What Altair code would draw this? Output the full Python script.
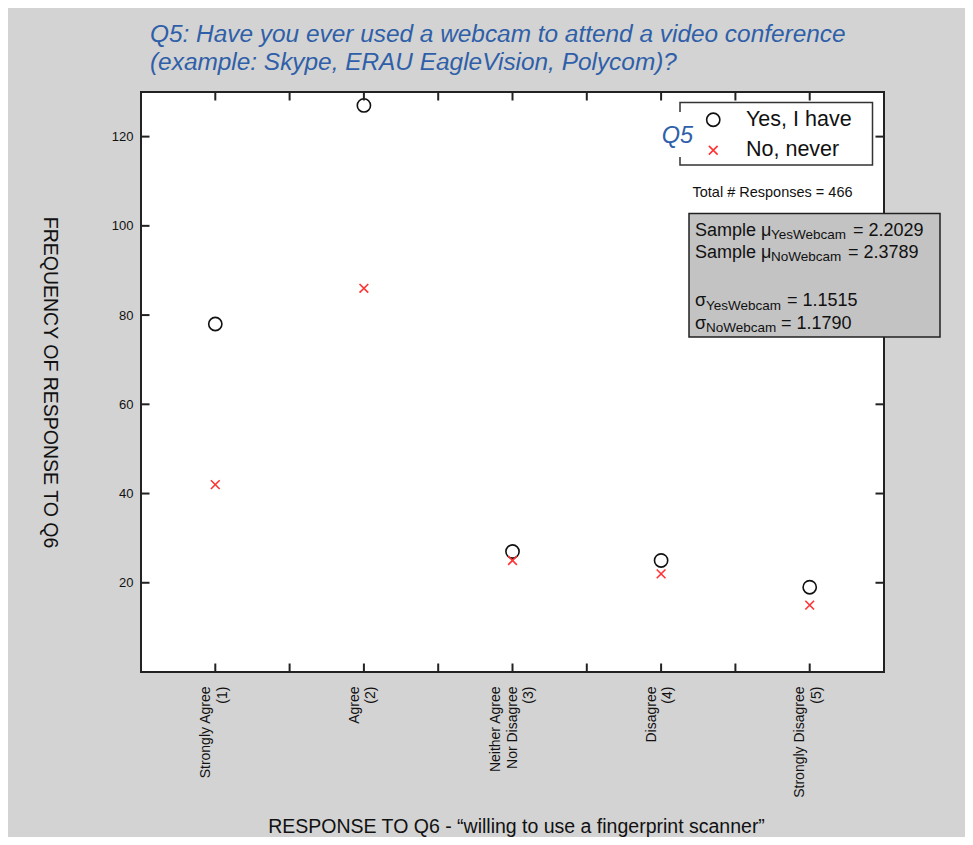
import json
import altair as alt
import pandas as pd

# ---------------- data ----------------
categories = [1, 2, 3, 4, 5]
x_labels = [
    ["Strongly Agree", "(1)"],
    ["Agree", "(2)"],
    ["Neither Agree", "Nor Disagree", "(3)"],
    ["Disagree", "(4)"],
    ["Strongly Disagree", "(5)"],
]
series_names = ["Yes, I have", "No, never"]
yes_counts = [78, 127, 27, 25, 19]
no_counts = [42, 86, 25, 22, 15]
y_tick_values = [20, 40, 60, 80, 100, 120]
x_tick_values = [1, 1.5, 2, 2.5, 3, 3.5, 4, 4.5, 5]

title_lines = [
    "Q5: Have you ever used a webcam to attend a video conference",
    "(example: Skype, ERAU EagleVision, Polycom)?",
]
x_title = "RESPONSE TO Q6 - \u201cwilling to use a fingerprint scanner\u201d"
y_title = "FREQUENCY OF RESPONSE TO Q6"
legend_title = "Q5"
total_text = "Total # Responses = 466"
stat_main = ["Sample \u03bc", "= 2.2029", "Sample \u03bc", "= 2.3789",
             "\u03c3", "= 1.1515", "\u03c3", "= 1.1790"]
stat_sub = ["YesWebcam", "NoWebcam", "YesWebcam", "NoWebcam"]

# ---------------- geometry ----------------
W, H = 743, 580
X_DOM = [0.5, 5.5]
Y_DOM = [0, 130]
LEFT, TOP = 141, 92   # page position of plot origin
FONT = "Liberation Sans"
LABEL_LH = 16.5


def px_x(px):
    return X_DOM[0] + (px - LEFT) * (X_DOM[1] - X_DOM[0]) / W


def px_y(py):
    return Y_DOM[0] + (TOP + H - py) * (Y_DOM[1] - Y_DOM[0]) / H


TICK = 8.5
tick_dx = TICK * (X_DOM[1] - X_DOM[0]) / W
tick_dy = TICK * (Y_DOM[1] - Y_DOM[0]) / H

xs = alt.Scale(domain=X_DOM, nice=False, zero=False)
ys = alt.Scale(domain=Y_DOM, nice=False, zero=False)

# ---------------- data frames ----------------
pts = pd.DataFrame({
    "x": categories * 2,
    "y": yes_counts + no_counts,
    "series": [series_names[0]] * 5 + [series_names[1]] * 5,
})

tick_rows = []
for v in x_tick_values:
    tick_rows.append({"x": v, "x2": v, "y": Y_DOM[0], "y2": Y_DOM[0] + tick_dy})
    tick_rows.append({"x": v, "x2": v, "y": Y_DOM[1], "y2": Y_DOM[1] - tick_dy})
for v in y_tick_values:
    tick_rows.append({"x": X_DOM[0], "x2": X_DOM[0] + tick_dx, "y": v, "y2": v})
    tick_rows.append({"x": X_DOM[1], "x2": X_DOM[1] - tick_dx, "y": v, "y2": v})
ticks_df = pd.DataFrame(tick_rows)

legend_box = pd.DataFrame([{"x": px_x(680), "x2": px_x(872.5), "y": px_y(102.5), "y2": px_y(165)}])
q5_patch = pd.DataFrame([{"x": px_x(662), "x2": px_x(694), "y": px_y(112), "y2": px_y(157)}])
stats_box = pd.DataFrame([{"x": px_x(689), "x2": px_x(940), "y": px_y(213.5), "y2": px_y(337)}])

q5_df = pd.DataFrame([{"x": px_x(677.5), "y": px_y(143), "text": legend_title}])
total_df = pd.DataFrame([{"x": px_x(772.5), "y": px_y(197), "text": total_text}])

main_pos = [(695, 235.5), (853, 235.5),
            (695, 257.5), (848, 257.5),
            (695, 306), (787, 306),
            (695, 328.5), (781, 328.5)]
sub_pos = [(771, 239), (771, 261), (706, 309.5), (706, 332)]
main_df = pd.DataFrame([{"x": px_x(p[0]), "y": px_y(p[1]), "text": t}
                        for t, p in zip(stat_main, main_pos)])
sub_df = pd.DataFrame([{"x": px_x(p[0]), "y": px_y(p[1]), "text": t}
                       for t, p in zip(stat_sub, sub_pos)])

# ---------------- layers ----------------
label_expr = json.dumps(x_labels) + "[datum.value - 1]"
n_lines_expr = json.dumps([len(l) for l in x_labels]) + "[datum.value - 1]"

x_axis = alt.Axis(
    values=categories, ticks=False, tickSize=0, domain=False, grid=False,
    labelExpr=label_expr, labelAngle=270, labelAlign="right", labelBaseline="middle",
    labelFont=FONT, labelFontSize=14, labelLineHeight=LABEL_LH, labelPadding=14,
    labelOffset={"condition": {"test": f"{n_lines_expr} == 3", "value": -LABEL_LH - 0.5},
                 "value": -LABEL_LH / 2 - 1.5},
    labelColor="#111111", labelOverlap=False,
    title=x_title, titleFont=FONT, titleFontSize=19.5, titleFontWeight="normal",
    titleColor="#111111", titleX=375, titleY=160, titleAlign="center",
    titleBaseline="alphabetic",
)
y_axis = alt.Axis(
    values=y_tick_values, ticks=False, tickSize=0, domain=False, grid=False,
    labelFont=FONT, labelFontSize=13, labelPadding=8, labelColor="#111111",
    title=y_title, titleFont=FONT, titleFontSize=19.5, titleFontWeight="normal",
    titleColor="#111111", titleAngle=90, titleX=-92, titleY=290,
    titleAlign="center", titleBaseline="middle",
)

CROSS = "M-0.66,-0.66L0.66,0.66M-0.66,0.66L0.66,-0.66"
leg = alt.Legend(
    title=None, orient="none", legendX=561.5, legendY=17, direction="vertical",
    symbolSize=175, symbolStrokeWidth=1.6, labelFont=FONT, labelFontSize=21.5,
    labelColor="#111111", labelOffset=22, rowPadding=7.5, padding=0,
)

points = alt.Chart(pts).mark_point(filled=False, size=175, strokeWidth=1.6, opacity=1).encode(
    x=alt.X("x:Q", scale=xs, axis=x_axis),
    y=alt.Y("y:Q", scale=ys, axis=y_axis),
    color=alt.Color("series:N", scale=alt.Scale(domain=series_names, range=["#111111", "#ff3333"]), legend=leg),
    shape=alt.Shape("series:N", scale=alt.Scale(domain=series_names, range=["circle", CROSS]), legend=leg),
)

ticks = alt.Chart(ticks_df).mark_rule(color="#222222", strokeWidth=2).encode(
    x=alt.X("x:Q", scale=xs), x2="x2", y=alt.Y("y:Q", scale=ys), y2="y2"
)

lbox = alt.Chart(legend_box).mark_rect(fill="white", stroke="#333333", strokeWidth=1.5).encode(
    x=alt.X("x:Q", scale=xs), x2="x2", y=alt.Y("y:Q", scale=ys), y2="y2"
)
patch = alt.Chart(q5_patch).mark_rect(fill="white", strokeWidth=0).encode(
    x=alt.X("x:Q", scale=xs), x2="x2", y=alt.Y("y:Q", scale=ys), y2="y2"
)
sbox = alt.Chart(stats_box).mark_rect(fill="#c3c3c3", stroke="#222222", strokeWidth=1.5).encode(
    x=alt.X("x:Q", scale=xs), x2="x2", y=alt.Y("y:Q", scale=ys), y2="y2"
)

q5_text = alt.Chart(q5_df).mark_text(
    font=FONT, fontSize=23.5, fontStyle="italic", color="#2f5fa8", align="center", baseline="alphabetic"
).encode(x=alt.X("x:Q", scale=xs), y=alt.Y("y:Q", scale=ys), text="text:N")

total = alt.Chart(total_df).mark_text(
    font=FONT, fontSize=14.5, color="#111111", align="center", baseline="alphabetic"
).encode(x=alt.X("x:Q", scale=xs), y=alt.Y("y:Q", scale=ys), text="text:N")

main_text = alt.Chart(main_df).mark_text(
    font=FONT, fontSize=18, color="#111111", align="left", baseline="alphabetic"
).encode(x=alt.X("x:Q", scale=xs), y=alt.Y("y:Q", scale=ys), text="text:N")

sub_text = alt.Chart(sub_df).mark_text(
    font=FONT, fontSize=13.5, color="#111111", align="left", baseline="alphabetic"
).encode(x=alt.X("x:Q", scale=xs), y=alt.Y("y:Q", scale=ys), text="text:N")

chart = alt.layer(
    points, ticks, lbox, patch, sbox, q5_text, total, main_text, sub_text
).properties(
    width=W, height=H,
    title=alt.TitleParams(
        text=title_lines, anchor="start", frame="group", dx=9, offset=16,
        font=FONT, fontSize=24.4, fontStyle="italic", fontWeight="normal",
        color="#2f5fa8", lineHeight=28,
    ),
    autosize=alt.AutoSizeParams(type="none"),
    padding={"left": 133, "top": 84, "right": 81, "bottom": 165},
).configure(
    background="#d3d3d3", font=FONT
).configure_view(
    fill="white", stroke="#222222", strokeWidth=2
)

chart.save("out.html", embed_options={"renderer": "svg", "actions": False})
